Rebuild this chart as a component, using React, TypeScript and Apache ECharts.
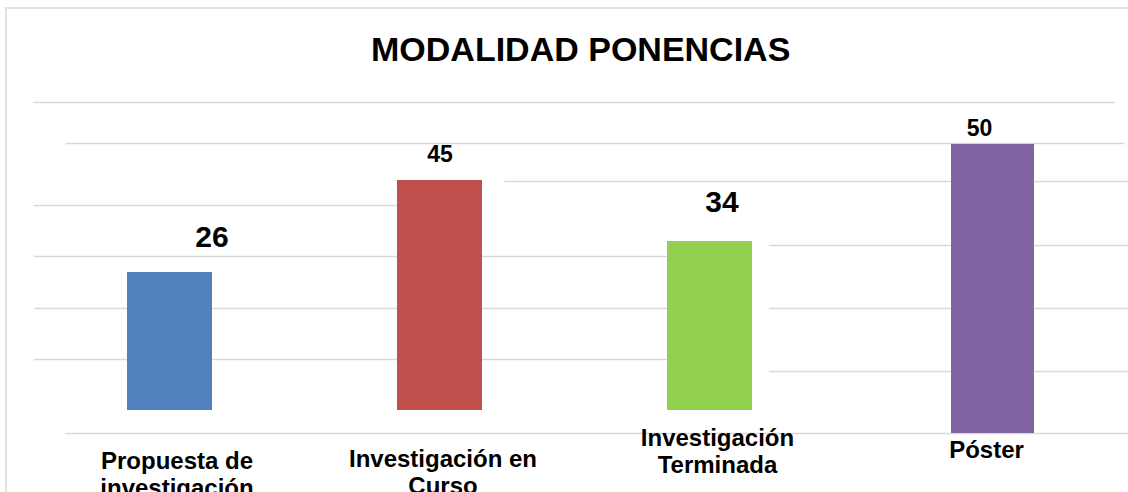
import { useEffect, useRef } from "react";
import * as echarts from "echarts";

// ---- data ----
const chartTitle = "MODALIDAD PONENCIAS";
const categories = [
  "Propuesta de\ninvestigación",
  "Investigación en\nCurso",
  "Investigación\nTerminada",
  "Póster",
];
const values = [26, 45, 34, 50];
const colors = ["#4F81BD", "#C0504D", "#92D050", "#8064A2"];

// ---- layout (grid rectangles, label styling) ----
const Y_MAX = 60;
const barPanels = [
  { left: 127, width: 85, top: 91.5, bottom: 410 },
  { left: 397, width: 85, top: 103.3, bottom: 410 },
  { left: 667, width: 85, top: 111.8, bottom: 410 },
  { left: 951, width: 83, top: 86.2, bottom: 433 },
];
const valueLabelStyle = [
  { size: 30, offset: [42.5, -20] },
  { size: 23, offset: [0.5, -14] },
  { size: 30, offset: [12.5, -24.5] },
  { size: 23, offset: [-13, -4.5] },
];
const categoryLabelPos = [
  { cx: 177, y: 447.5 },
  { cx: 443, y: 445.5 },
  { cx: 717.5, y: 424 },
  { cx: 986.5, y: 435.5 },
];
const ruleGroups = [
  { x0: 34, x1: 1114, ys: [102.5] },
  { x0: 66, x1: 1124, ys: [143] },
  { x0: 505, x1: 1128, ys: [181.5] },
  { x0: 34, x1: 397, ys: [205] },
  { x0: 34, x1: 667, ys: [256.5, 308, 359.5] },
  { x0: 769, x1: 1128, ys: [245, 308, 371] },
  { x0: 66, x1: 1128, ys: [433.5] },
];

const FONT = "'Liberation Sans', Arial, Helvetica, sans-serif";
const RULE = { color: "#d9d9d9", width: 1.3 };

function buildOption() {
  const grid: any[] = [];
  const xAxis: any[] = [];
  const yAxis: any[] = [];
  const series: any[] = [];

  // decorative gridline panels
  ruleGroups.forEach((g) => {
    const idx = grid.length;
    const n = g.ys.length;
    if (n === 1) {
      grid.push({ left: g.x0, width: g.x1 - g.x0, top: g.ys[0], height: 10, containLabel: false });
      xAxis.push({
        gridIndex: idx, type: "value", min: 0, max: 1, position: "top",
        axisLine: { show: true, onZero: false, lineStyle: RULE },
        axisTick: { show: false }, axisLabel: { show: false }, splitLine: { show: false },
      });
      yAxis.push({ gridIndex: idx, type: "value", min: 0, max: 1, show: false });
    } else {
      const gap = (g.ys[n - 1] - g.ys[0]) / (n - 1);
      grid.push({ left: g.x0, width: g.x1 - g.x0, top: g.ys[0], height: gap * (n - 1), containLabel: false });
      xAxis.push({ gridIndex: idx, type: "value", min: 0, max: 1, show: false });
      yAxis.push({
        gridIndex: idx, type: "value", min: 0, max: n - 1, interval: 1,
        axisLine: { show: false }, axisTick: { show: false }, axisLabel: { show: false },
        splitLine: { show: true, lineStyle: RULE },
      });
    }
  });

  // bar panels
  values.forEach((v, i) => {
    const p = barPanels[i];
    const idx = grid.length;
    grid.push({ left: p.left, width: p.width, top: p.top, height: p.bottom - p.top, containLabel: false });
    xAxis.push({
      gridIndex: idx, type: "category", data: [categories[i]],
      axisLine: { show: false }, axisTick: { show: false }, axisLabel: { show: false },
    });
    yAxis.push({
      gridIndex: idx, type: "value", min: 0, max: Y_MAX,
      axisLine: { show: false }, axisTick: { show: false }, axisLabel: { show: false },
      splitLine: { show: false },
    });
    const ls = valueLabelStyle[i];
    series.push({
      type: "bar",
      xAxisIndex: idx,
      yAxisIndex: idx,
      barWidth: "100%",
      data: [v],
      itemStyle: { color: colors[i] },
      label: {
        show: true,
        position: "top",
        distance: 0,
        offset: ls.offset,
        fontFamily: FONT,
        fontWeight: "bold",
        fontSize: ls.size,
        lineHeight: ls.size,
        color: "#000",
      },
    });
  });

  // category label panels
  categories.forEach((c, i) => {
    const p = categoryLabelPos[i];
    const idx = grid.length;
    grid.push({ left: p.cx - 110, width: 220, top: p.y - 1, height: 1, containLabel: false });
    xAxis.push({
      gridIndex: idx, type: "category", data: [c], position: "bottom",
      axisLine: { show: false }, axisTick: { show: false },
      axisLabel: {
        show: true, margin: 0, interval: 0,
        fontFamily: FONT, fontWeight: "bold", fontSize: 24, lineHeight: 27,
        color: "#000", verticalAlign: "top", align: "center",
      },
    });
    yAxis.push({ gridIndex: idx, type: "value", show: false });
  });

  return {
    animation: false,
    backgroundColor: "#ffffff",
    title: {
      text: chartTitle,
      left: 371,
      top: 31,
      padding: 0,
      textStyle: { fontFamily: FONT, fontWeight: "bold", fontSize: 34, lineHeight: 36, color: "#000" },
    },
    graphic: [
      {
        type: "rect",
        z: -10,
        shape: { x: 6, y: 8, width: 1400, height: 800 },
        style: { fill: "none", stroke: "#d9d9d9", lineWidth: 1.5 },
      },
    ],
    grid,
    xAxis,
    yAxis,
    series,
  };
}

export default function App() {
  const ref = useRef<HTMLDivElement>(null);
  useEffect(() => {
    if (!ref.current) return;
    const chart = echarts.init(ref.current, undefined, { renderer: "svg" });
    chart.setOption(buildOption() as any);
    return () => chart.dispose();
  }, []);
  return (
    <div
      ref={ref}
      style={{ position: "fixed", left: 0, top: 0, width: 1128, height: 492, background: "#fff" }}
    />
  );
}
